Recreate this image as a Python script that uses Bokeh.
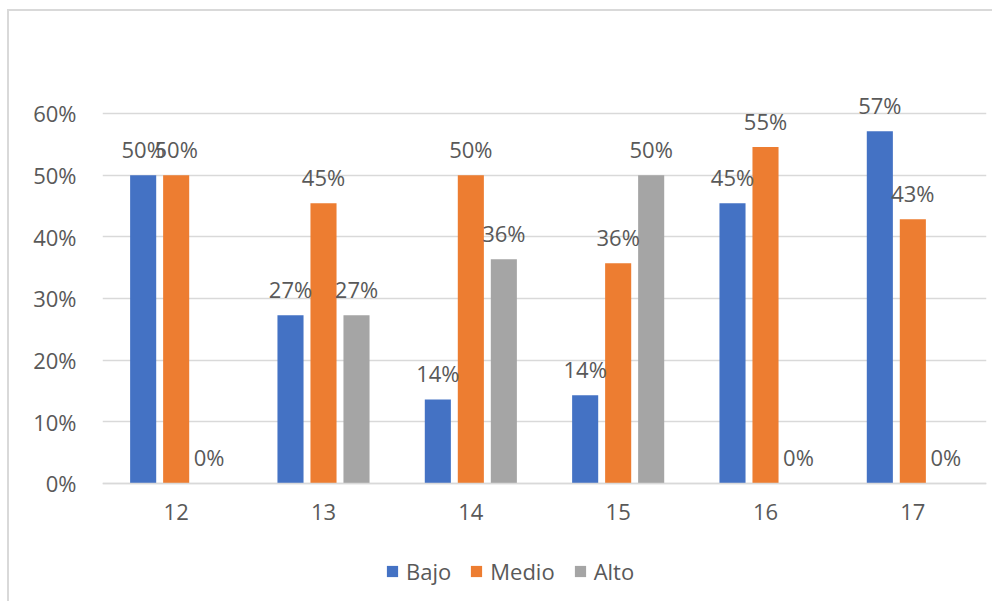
from bokeh.plotting import figure
from bokeh.models import (ColumnDataSource, FactorRange, Range1d, Legend, LegendItem,
                          LabelSet, NumeralTickFormatter, FixedTicker)
from bokeh.transform import dodge
from bokeh.core.properties import value
from bokeh.embed import file_html
from bokeh.resources import INLINE

# Edades (categorías del eje X)
edades = ["12", "13", "14", "15", "16", "17"]

# Proporción de cada nivel por edad
bajo = [0.50, 0.2727, 0.1364, 0.1429, 0.4545, 0.5714]
medio = [0.50, 0.4545, 0.50, 0.3571, 0.5455, 0.4286]
alto = [0.0, 0.2727, 0.3636, 0.50, 0.0, 0.0]

series = ["Bajo", "Medio", "Alto"]
colores = ["#4472C4", "#ED7D31", "#A5A5A5"]
y_ticks = [0.0, 0.1, 0.2, 0.3, 0.4, 0.5, 0.6]

FONT = "Open Sans"
TXT = "#595959"
GRID = "#D9D9D9"
FS = "22px"

# El área de trazado se extiende por encima (etiquetas) y por debajo (ejes y leyenda)
p = figure(
    x_range=FactorRange(*edades), y_range=Range1d(-0.1946, 0.7508),
    width=985, height=592,
    output_backend="svg", toolbar_location=None,
    min_border_left=93, min_border_right=8, min_border_top=9, min_border_bottom=0,
)
p.margin = (9, 0, 0, 7)
p.styles = {"border-top": "2px solid #D9D9D9", "border-left": "2px solid #D9D9D9"}
p.outline_line_color = None
p.background_fill_color = "white"
p.border_fill_color = "white"

step = 0.224
width = 0.177
offsets = [-step, 0.0, step]
valores = [bajo, medio, alto]

items = []
for nombre, vals, color, off in zip(series, valores, colores, offsets):
    src = ColumnDataSource(dict(
        edad=edades, valor=vals,
        texto=[f"{round(v * 100)}%" for v in vals],
    ))
    r = p.vbar(x=dodge("edad", off, range=p.x_range), top="valor", width=width,
               source=src, fill_color=color, line_color=None)
    items.append(LegendItem(label=nombre, renderers=[r]))
    labels = LabelSet(x=dodge("edad", off, range=p.x_range), y="valor", text="texto",
                      source=src, text_align="center", text_baseline="middle",
                      y_offset=26, text_font=value(FONT), text_font_size=FS,
                      text_color=TXT)
    p.add_layout(labels)

# Eje Y
p.yaxis.ticker = FixedTicker(ticks=y_ticks)
p.yaxis.formatter = NumeralTickFormatter(format="0%")
p.yaxis.axis_line_color = None
p.yaxis.major_tick_line_color = None
p.yaxis.minor_tick_line_color = None
p.yaxis.major_label_standoff = 20
p.yaxis.major_label_text_font = FONT
p.yaxis.major_label_text_font_size = FS
p.yaxis.major_label_text_color = TXT

# Eje X anclado en el 0 %
p.xaxis.fixed_location = 0
p.xaxis.axis_line_color = GRID
p.xaxis.axis_line_width = 1.5
p.xaxis.major_tick_line_color = None
p.xaxis.minor_tick_line_color = None
p.xaxis.major_label_standoff = 15
p.xaxis.major_label_text_font = FONT
p.xaxis.major_label_text_font_size = FS
p.xaxis.major_label_text_color = TXT

p.xgrid.grid_line_color = None
p.ygrid.grid_line_color = GRID
p.ygrid.grid_line_width = 1.5

legend = Legend(items=items, orientation="horizontal", location=(283, 17),
                glyph_width=14, glyph_height=14, label_standoff=7, spacing=18,
                padding=0, margin=0, border_line_color=None,
                background_fill_alpha=0,
                label_text_font=FONT, label_text_font_size=FS,
                label_text_color=TXT)
p.add_layout(legend, "center")

open("out.html", "w").write(file_html(p, INLINE))
